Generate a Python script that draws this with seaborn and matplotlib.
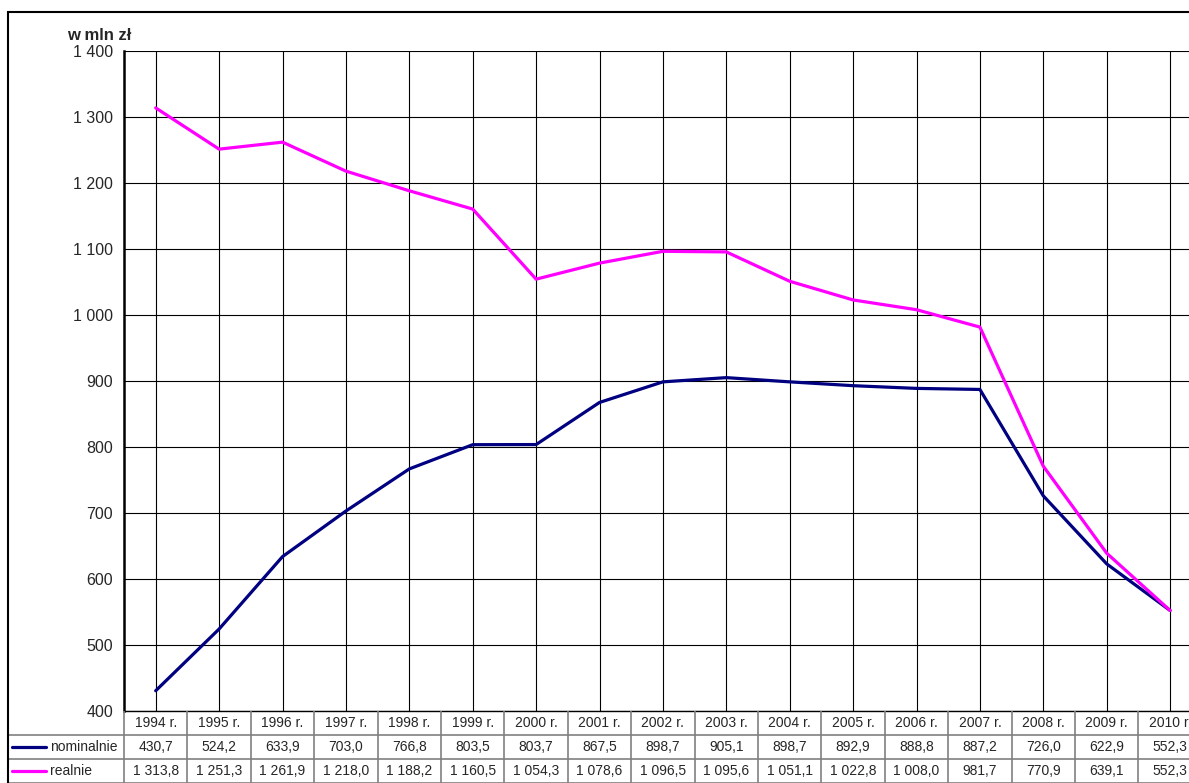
import matplotlib
matplotlib.use("Agg")
from matplotlib import pyplot as plt
import matplotlib.ticker as mticker
import pandas as pd
import seaborn as sns

# dane z wykresu
years = ["1994 r.", "1995 r.", "1996 r.", "1997 r.", "1998 r.", "1999 r.", "2000 r.",
         "2001 r.", "2002 r.", "2003 r.", "2004 r.", "2005 r.", "2006 r.", "2007 r.",
         "2008 r.", "2009 r.", "2010 r."]
nominalnie = [430.7, 524.2, 633.9, 703.0, 766.8, 803.5, 803.7, 867.5, 898.7, 905.1,
              898.7, 892.9, 888.8, 887.2, 726.0, 622.9, 552.3]
realnie = [1313.8, 1251.3, 1261.9, 1218.0, 1188.2, 1160.5, 1054.3, 1078.6, 1096.5,
           1095.6, 1051.1, 1022.8, 1008.0, 981.7, 770.9, 639.1, 552.3]
series_names = ["nominalnie", "realnie"]
colors = {"nominalnie": "#000080", "realnie": "#FF00FF"}
y_ticks = [400, 500, 600, 700, 800, 900, 1000, 1100, 1200, 1300, 1400]
unit_label = "w mln zł"

df = pd.DataFrame({"rok": years * 2,
                   "wartosc": nominalnie + realnie,
                   "seria": ["nominalnie"] * len(years) + ["realnie"] * len(years)})


def fmt_pl(v, dec=1):
    s = f"{v:,.{dec}f}"
    return s.replace(",", " ").replace(".", ",")


sns.set_style("white")
plt.rcParams["font.family"] = ["Liberation Sans", "DejaVu Sans"]

W, H = 1189, 783
fig = plt.figure(figsize=(W / 100, H / 100), dpi=100)

col_w = 63.4  # px per category
left_px, top_px, bottom_px = 124, 51, 711
lab_left_px = 8
ax = fig.add_axes([left_px / W, (H - bottom_px) / H,
                   len(years) * col_w / W, (bottom_px - top_px) / H])

sns.lineplot(data=df, x="rok", y="wartosc", hue="seria", palette=colors,
             linewidth=2.3, ax=ax, legend=False, sort=False)

n = len(years)
ax.set_xlim(-0.5, n - 0.5)
ax.set_ylim(400, 1400)
ax.set_yticks(y_ticks)
ax.yaxis.set_major_formatter(mticker.FuncFormatter(lambda v, p: fmt_pl(v, 0)))
ax.set_xticks(range(n))
ax.tick_params(axis="x", length=0, labelbottom=False)
ax.tick_params(axis="y", direction="out", length=5, width=1, color="black",
               labelsize=11.5, pad=3)
ax.set_xlabel("")
ax.set_ylabel("")
ax.grid(True, color="black", linewidth=0.8)
ax.set_axisbelow(True)
for s in ["top", "right"]:
    ax.spines[s].set_visible(False)
ax.spines["left"].set_linewidth(1.8)
ax.spines["left"].set_color("black")
ax.spines["bottom"].set_linewidth(1.0)
ax.spines["bottom"].set_color("black")

ax.text(67 / W, 1 - 40 / H, unit_label, transform=fig.transFigure,
        fontsize=12, fontweight="bold", va="baseline", ha="left")

# tabela danych pod wykresem
lab_w = (left_px - lab_left_px) / col_w
tab = fig.add_axes([lab_left_px / W, 0, (left_px - lab_left_px + n * col_w) / W,
                    (H - bottom_px) / H])
tab.set_xlim(-0.5 - lab_w, n - 0.5)
tab.set_ylim(0, 3)
tab.axis("off")
grid_c = "#808080"
for i in range(n + 1):
    tab.plot([i - 0.5, i - 0.5], [0, 3], color=grid_c, lw=1.2)
for yv in [0, 1, 2]:
    tab.plot([-0.5 - lab_w, n - 0.5], [yv, yv], color=grid_c, lw=1.2)
for i, yr in enumerate(years):
    tab.text(i, 2.5, yr, ha="center", va="center", fontsize=10)
rows = {"nominalnie": nominalnie, "realnie": realnie}
for r, name in enumerate(series_names):
    yc = 1.5 - r
    for i, v in enumerate(rows[name]):
        tab.text(i, yc, fmt_pl(v), ha="center", va="center", fontsize=10)
    x0 = -0.5 - lab_w
    tab.plot([x0 + 4 / col_w, x0 + 38 / col_w], [yc, yc], color=colors[name], lw=2.3)
    tab.text(x0 + 42 / col_w, yc, name, ha="left", va="center", fontsize=10)

# ramka wykresu
frame = plt.Rectangle((8 / W, -0.01), 1.0, 1 - 12 / H + 0.01, transform=fig.transFigure,
                      fill=False, edgecolor="black", linewidth=1.5)
fig.add_artist(frame)

fig.savefig("out.png", dpi=100)
